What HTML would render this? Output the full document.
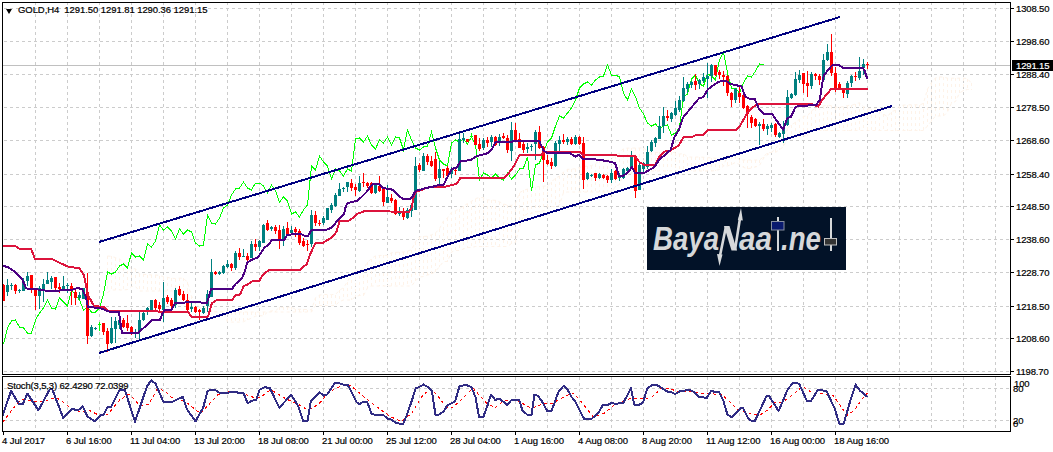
<!DOCTYPE html>
<html><head><meta charset="utf-8"><style>
html,body{margin:0;padding:0;background:#fff;width:1053px;height:452px;overflow:hidden;position:relative}
body{font-family:"Liberation Sans",sans-serif;font-size:10px;color:#000;-webkit-text-stroke:0.2px #000}
.cur{-webkit-text-stroke:0.2px #fff}
.pl{position:absolute;left:1016px;line-height:12px;font-size:9.5px;letter-spacing:-0.15px}
.tl{position:absolute;top:435px;line-height:12px;font-size:9.5px;letter-spacing:-0.08px;white-space:nowrap}
.title{position:absolute;left:18px;top:4px;line-height:12px;white-space:nowrap;font-size:9.5px;letter-spacing:-0.07px}
.tri{position:absolute;left:6px;top:9px;width:0;height:0;border-left:3.5px solid transparent;border-right:3.5px solid transparent;border-top:5px solid #000}
.cur{position:absolute;left:1012px;top:60px;width:41px;height:11px;background:#000;color:#fff;line-height:12px;padding-left:4px;box-sizing:border-box;font-size:9.5px;letter-spacing:-0.15px}
.st{position:absolute;left:7px;top:380px;line-height:12px;white-space:nowrap;font-size:9.5px;letter-spacing:-0.15px}
.sl{position:absolute;line-height:12px;font-size:9.5px;letter-spacing:-0.15px}
</style></head><body>
<svg width="1053" height="452" viewBox="0 0 1053 452" style="position:absolute;left:0;top:0;-webkit-text-stroke:0">
<g stroke="#cccccc" stroke-width="1" stroke-dasharray="3,3" shape-rendering="crispEdges"><line x1="35.5" y1="2" x2="35.5" y2="374" /><line x1="35.5" y1="377" x2="35.5" y2="431" /><line x1="67.5" y1="2" x2="67.5" y2="374" /><line x1="67.5" y1="377" x2="67.5" y2="431" /><line x1="99.5" y1="2" x2="99.5" y2="374" /><line x1="99.5" y1="377" x2="99.5" y2="431" /><line x1="131.5" y1="2" x2="131.5" y2="374" /><line x1="131.5" y1="377" x2="131.5" y2="431" /><line x1="163.5" y1="2" x2="163.5" y2="374" /><line x1="163.5" y1="377" x2="163.5" y2="431" /><line x1="195.5" y1="2" x2="195.5" y2="374" /><line x1="195.5" y1="377" x2="195.5" y2="431" /><line x1="227.5" y1="2" x2="227.5" y2="374" /><line x1="227.5" y1="377" x2="227.5" y2="431" /><line x1="259.5" y1="2" x2="259.5" y2="374" /><line x1="259.5" y1="377" x2="259.5" y2="431" /><line x1="291.5" y1="2" x2="291.5" y2="374" /><line x1="291.5" y1="377" x2="291.5" y2="431" /><line x1="323.5" y1="2" x2="323.5" y2="374" /><line x1="323.5" y1="377" x2="323.5" y2="431" /><line x1="355.5" y1="2" x2="355.5" y2="374" /><line x1="355.5" y1="377" x2="355.5" y2="431" /><line x1="387.5" y1="2" x2="387.5" y2="374" /><line x1="387.5" y1="377" x2="387.5" y2="431" /><line x1="419.5" y1="2" x2="419.5" y2="374" /><line x1="419.5" y1="377" x2="419.5" y2="431" /><line x1="451.5" y1="2" x2="451.5" y2="374" /><line x1="451.5" y1="377" x2="451.5" y2="431" /><line x1="483.5" y1="2" x2="483.5" y2="374" /><line x1="483.5" y1="377" x2="483.5" y2="431" /><line x1="515.5" y1="2" x2="515.5" y2="374" /><line x1="515.5" y1="377" x2="515.5" y2="431" /><line x1="547.5" y1="2" x2="547.5" y2="374" /><line x1="547.5" y1="377" x2="547.5" y2="431" /><line x1="579.5" y1="2" x2="579.5" y2="374" /><line x1="579.5" y1="377" x2="579.5" y2="431" /><line x1="611.5" y1="2" x2="611.5" y2="374" /><line x1="611.5" y1="377" x2="611.5" y2="431" /><line x1="643.5" y1="2" x2="643.5" y2="374" /><line x1="643.5" y1="377" x2="643.5" y2="431" /><line x1="675.5" y1="2" x2="675.5" y2="374" /><line x1="675.5" y1="377" x2="675.5" y2="431" /><line x1="707.5" y1="2" x2="707.5" y2="374" /><line x1="707.5" y1="377" x2="707.5" y2="431" /><line x1="739.5" y1="2" x2="739.5" y2="374" /><line x1="739.5" y1="377" x2="739.5" y2="431" /><line x1="771.5" y1="2" x2="771.5" y2="374" /><line x1="771.5" y1="377" x2="771.5" y2="431" /><line x1="803.5" y1="2" x2="803.5" y2="374" /><line x1="803.5" y1="377" x2="803.5" y2="431" /><line x1="835.5" y1="2" x2="835.5" y2="374" /><line x1="835.5" y1="377" x2="835.5" y2="431" /><line x1="867.5" y1="2" x2="867.5" y2="374" /><line x1="867.5" y1="377" x2="867.5" y2="431" /><line x1="899.5" y1="2" x2="899.5" y2="374" /><line x1="899.5" y1="377" x2="899.5" y2="431" /><line x1="931.5" y1="2" x2="931.5" y2="374" /><line x1="931.5" y1="377" x2="931.5" y2="431" /><line x1="963.5" y1="2" x2="963.5" y2="374" /><line x1="963.5" y1="377" x2="963.5" y2="431" /><line x1="995.5" y1="2" x2="995.5" y2="374" /><line x1="995.5" y1="377" x2="995.5" y2="431" /><line x1="4" y1="8.5" x2="1010" y2="8.5" /><line x1="4" y1="41.5" x2="1010" y2="41.5" /><line x1="4" y1="74.5" x2="1010" y2="74.5" /><line x1="4" y1="107.5" x2="1010" y2="107.5" /><line x1="4" y1="140.5" x2="1010" y2="140.5" /><line x1="4" y1="174.5" x2="1010" y2="174.5" /><line x1="4" y1="206.5" x2="1010" y2="206.5" /><line x1="4" y1="239.5" x2="1010" y2="239.5" /><line x1="4" y1="272.5" x2="1010" y2="272.5" /><line x1="4" y1="306.5" x2="1010" y2="306.5" /><line x1="4" y1="338.5" x2="1010" y2="338.5" /><line x1="4" y1="371.5" x2="1010" y2="371.5" /><line x1="4" y1="388.5" x2="1010" y2="388.5" /><line x1="4" y1="420.5" x2="1010" y2="420.5" /></g>
<g stroke="#fef3e9" stroke-width="1" stroke-dasharray="3,3" shape-rendering="crispEdges"><line x1="107.5" y1="256.0" x2="107.5" y2="292.5"/><line x1="111.5" y1="256.4" x2="111.5" y2="290.0"/><line x1="115.5" y1="257.6" x2="115.5" y2="290.0"/><line x1="119.5" y1="259.0" x2="119.5" y2="290.0"/><line x1="123.5" y1="262.2" x2="123.5" y2="290.0"/><line x1="127.5" y1="264.9" x2="127.5" y2="289.5"/><line x1="131.5" y1="268.5" x2="131.5" y2="286.5"/><line x1="135.5" y1="268.8" x2="135.5" y2="286.5"/><line x1="139.5" y1="274.0" x2="139.5" y2="291.0"/><line x1="143.5" y1="274.3" x2="143.5" y2="291.0"/><line x1="147.5" y1="274.6" x2="147.5" y2="291.0"/><line x1="151.5" y1="274.9" x2="151.5" y2="291.0"/><line x1="155.5" y1="274.9" x2="155.5" y2="291.0"/><line x1="159.5" y1="275.6" x2="159.5" y2="291.0"/><line x1="163.5" y1="276.5" x2="163.5" y2="291.0"/><line x1="167.5" y1="277.4" x2="167.5" y2="291.0"/><line x1="171.5" y1="278.2" x2="171.5" y2="291.0"/><line x1="175.5" y1="278.6" x2="175.5" y2="291.0"/><line x1="179.5" y1="278.2" x2="179.5" y2="291.0"/><line x1="183.5" y1="278.2" x2="183.5" y2="291.0"/><line x1="187.5" y1="282.3" x2="187.5" y2="291.0"/><line x1="191.5" y1="296.0" x2="191.5" y2="308.0"/><line x1="195.5" y1="303.9" x2="195.5" y2="308.0"/><line x1="199.5" y1="306.8" x2="199.5" y2="308.0"/><line x1="203.5" y1="307.2" x2="203.5" y2="308.0"/><line x1="207.5" y1="308.0" x2="207.5" y2="308.0"/><line x1="211.5" y1="310.4" x2="211.5" y2="312.0"/><line x1="215.5" y1="311.5" x2="215.5" y2="312.0"/><line x1="219.5" y1="311.5" x2="219.5" y2="312.0"/><line x1="223.5" y1="311.6" x2="223.5" y2="312.0"/><line x1="227.5" y1="312.0" x2="227.5" y2="322.1"/><line x1="231.5" y1="312.0" x2="231.5" y2="322.1"/><line x1="235.5" y1="312.0" x2="235.5" y2="322.1"/><line x1="239.5" y1="312.0" x2="239.5" y2="322.1"/><line x1="243.5" y1="312.0" x2="243.5" y2="321.7"/><line x1="247.5" y1="312.0" x2="247.5" y2="319.9"/><line x1="251.5" y1="312.0" x2="251.5" y2="318.1"/><line x1="255.5" y1="312.0" x2="255.5" y2="316.2"/><line x1="259.5" y1="312.0" x2="259.5" y2="315.7"/><line x1="263.5" y1="312.0" x2="263.5" y2="315.8"/><line x1="267.5" y1="312.0" x2="267.5" y2="312.1"/><line x1="271.5" y1="310.8" x2="271.5" y2="312.0"/><line x1="275.5" y1="310.8" x2="275.5" y2="312.0"/><line x1="279.5" y1="307.3" x2="279.5" y2="312.0"/><line x1="283.5" y1="307.3" x2="283.5" y2="312.0"/><line x1="287.5" y1="307.2" x2="287.5" y2="312.0"/><line x1="291.5" y1="307.1" x2="291.5" y2="312.0"/><line x1="295.5" y1="309.4" x2="295.5" y2="312.0"/><line x1="299.5" y1="309.3" x2="299.5" y2="312.0"/><line x1="303.5" y1="309.4" x2="303.5" y2="312.0"/><line x1="307.5" y1="309.6" x2="307.5" y2="312.0"/><line x1="311.5" y1="309.8" x2="311.5" y2="312.0"/><line x1="315.5" y1="297.7" x2="315.5" y2="305.5"/><line x1="319.5" y1="295.1" x2="319.5" y2="305.5"/><line x1="323.5" y1="294.5" x2="323.5" y2="305.5"/><line x1="327.5" y1="294.5" x2="327.5" y2="305.5"/><line x1="331.5" y1="294.5" x2="331.5" y2="305.5"/><line x1="335.5" y1="294.5" x2="335.5" y2="305.5"/><line x1="339.5" y1="290.2" x2="339.5" y2="301.5"/><line x1="343.5" y1="287.7" x2="343.5" y2="300.0"/><line x1="347.5" y1="281.6" x2="347.5" y2="300.0"/><line x1="351.5" y1="273.9" x2="351.5" y2="300.0"/><line x1="355.5" y1="271.1" x2="355.5" y2="296.5"/><line x1="359.5" y1="270.0" x2="359.5" y2="295.5"/><line x1="363.5" y1="268.7" x2="363.5" y2="295.5"/><line x1="367.5" y1="262.2" x2="367.5" y2="288.0"/><line x1="371.5" y1="258.7" x2="371.5" y2="286.0"/><line x1="375.5" y1="255.7" x2="375.5" y2="286.0"/><line x1="379.5" y1="255.4" x2="379.5" y2="286.0"/><line x1="383.5" y1="255.4" x2="383.5" y2="286.0"/><line x1="387.5" y1="255.4" x2="387.5" y2="286.0"/><line x1="391.5" y1="252.7" x2="391.5" y2="286.0"/><line x1="395.5" y1="252.4" x2="395.5" y2="286.0"/><line x1="399.5" y1="252.2" x2="399.5" y2="286.0"/><line x1="403.5" y1="252.0" x2="403.5" y2="286.0"/><line x1="407.5" y1="251.1" x2="407.5" y2="286.0"/><line x1="411.5" y1="249.8" x2="411.5" y2="286.0"/><line x1="415.5" y1="241.6" x2="415.5" y2="281.0"/><line x1="419.5" y1="237.0" x2="419.5" y2="277.0"/><line x1="423.5" y1="236.4" x2="423.5" y2="276.5"/><line x1="427.5" y1="236.3" x2="427.5" y2="275.0"/><line x1="431.5" y1="234.9" x2="431.5" y2="274.0"/><line x1="435.5" y1="232.9" x2="435.5" y2="271.5"/><line x1="439.5" y1="228.7" x2="439.5" y2="266.5"/><line x1="443.5" y1="221.0" x2="443.5" y2="261.5"/><line x1="447.5" y1="217.8" x2="447.5" y2="261.5"/><line x1="451.5" y1="212.4" x2="451.5" y2="252.0"/><line x1="455.5" y1="210.8" x2="455.5" y2="250.5"/><line x1="459.5" y1="208.7" x2="459.5" y2="250.5"/><line x1="463.5" y1="206.1" x2="463.5" y2="249.0"/><line x1="467.5" y1="203.6" x2="467.5" y2="247.5"/><line x1="471.5" y1="201.3" x2="471.5" y2="247.5"/><line x1="475.5" y1="198.6" x2="475.5" y2="246.5"/><line x1="479.5" y1="197.5" x2="479.5" y2="246.5"/><line x1="483.5" y1="197.5" x2="483.5" y2="246.5"/><line x1="487.5" y1="199.9" x2="487.5" y2="246.5"/><line x1="491.5" y1="200.0" x2="491.5" y2="246.5"/><line x1="495.5" y1="200.4" x2="495.5" y2="246.5"/><line x1="499.5" y1="201.9" x2="499.5" y2="246.5"/><line x1="503.5" y1="203.9" x2="503.5" y2="246.5"/><line x1="507.5" y1="205.3" x2="507.5" y2="246.5"/><line x1="511.5" y1="205.4" x2="511.5" y2="243.5"/><line x1="515.5" y1="203.3" x2="515.5" y2="242.5"/><line x1="519.5" y1="192.8" x2="519.5" y2="227.0"/><line x1="523.5" y1="190.3" x2="523.5" y2="216.0"/><line x1="527.5" y1="189.1" x2="527.5" y2="214.0"/><line x1="531.5" y1="187.8" x2="531.5" y2="213.5"/><line x1="535.5" y1="187.1" x2="535.5" y2="212.0"/><line x1="539.5" y1="186.5" x2="539.5" y2="211.5"/><line x1="543.5" y1="186.1" x2="543.5" y2="211.0"/><line x1="547.5" y1="185.9" x2="547.5" y2="206.5"/><line x1="551.5" y1="182.1" x2="551.5" y2="206.5"/><line x1="555.5" y1="178.0" x2="555.5" y2="206.5"/><line x1="559.5" y1="176.2" x2="559.5" y2="205.0"/><line x1="563.5" y1="172.0" x2="563.5" y2="192.5"/><line x1="567.5" y1="169.4" x2="567.5" y2="192.0"/><line x1="571.5" y1="169.1" x2="571.5" y2="192.0"/><line x1="575.5" y1="168.7" x2="575.5" y2="192.0"/><line x1="579.5" y1="167.4" x2="579.5" y2="192.0"/><line x1="583.5" y1="166.6" x2="583.5" y2="192.0"/><line x1="587.5" y1="166.1" x2="587.5" y2="192.0"/><line x1="591.5" y1="165.6" x2="591.5" y2="192.0"/><line x1="595.5" y1="163.8" x2="595.5" y2="192.0"/><line x1="599.5" y1="160.3" x2="599.5" y2="192.0"/><line x1="603.5" y1="159.8" x2="603.5" y2="192.0"/><line x1="607.5" y1="159.8" x2="607.5" y2="192.0"/><line x1="611.5" y1="158.5" x2="611.5" y2="192.0"/><line x1="615.5" y1="156.0" x2="615.5" y2="186.5"/><line x1="619.5" y1="152.5" x2="619.5" y2="184.5"/><line x1="623.5" y1="148.5" x2="623.5" y2="174.0"/><line x1="627.5" y1="148.1" x2="627.5" y2="174.0"/><line x1="631.5" y1="148.1" x2="631.5" y2="173.5"/><line x1="635.5" y1="148.0" x2="635.5" y2="171.0"/><line x1="639.5" y1="148.0" x2="639.5" y2="171.0"/><line x1="643.5" y1="147.8" x2="643.5" y2="171.0"/><line x1="647.5" y1="151.3" x2="647.5" y2="171.0"/><line x1="651.5" y1="152.3" x2="651.5" y2="171.0"/><line x1="655.5" y1="152.4" x2="655.5" y2="171.0"/><line x1="659.5" y1="152.4" x2="659.5" y2="171.0"/><line x1="663.5" y1="152.4" x2="663.5" y2="171.0"/><line x1="667.5" y1="152.4" x2="667.5" y2="171.0"/><line x1="671.5" y1="152.4" x2="671.5" y2="171.0"/><line x1="675.5" y1="152.7" x2="675.5" y2="171.0"/><line x1="679.5" y1="154.1" x2="679.5" y2="171.0"/><line x1="683.5" y1="153.5" x2="683.5" y2="171.0"/><line x1="687.5" y1="157.0" x2="687.5" y2="171.0"/><line x1="691.5" y1="157.0" x2="691.5" y2="171.0"/><line x1="695.5" y1="157.0" x2="695.5" y2="171.0"/><line x1="699.5" y1="157.0" x2="699.5" y2="171.0"/><line x1="703.5" y1="157.3" x2="703.5" y2="171.0"/><line x1="707.5" y1="157.6" x2="707.5" y2="171.0"/><line x1="711.5" y1="157.8" x2="711.5" y2="171.0"/><line x1="715.5" y1="158.3" x2="715.5" y2="170.5"/><line x1="719.5" y1="158.8" x2="719.5" y2="169.5"/><line x1="723.5" y1="166.0" x2="723.5" y2="166.3"/><line x1="727.5" y1="155.5" x2="727.5" y2="165.9"/><line x1="731.5" y1="155.5" x2="731.5" y2="164.6"/><line x1="735.5" y1="155.5" x2="735.5" y2="162.3"/><line x1="739.5" y1="160.0" x2="739.5" y2="164.8"/><line x1="743.5" y1="160.0" x2="743.5" y2="167.4"/><line x1="747.5" y1="160.0" x2="747.5" y2="168.7"/><line x1="751.5" y1="160.0" x2="751.5" y2="168.1"/><line x1="755.5" y1="160.0" x2="755.5" y2="166.9"/><line x1="759.5" y1="160.0" x2="759.5" y2="165.4"/><line x1="763.5" y1="157.0" x2="763.5" y2="158.5"/><line x1="767.5" y1="152.5" x2="767.5" y2="154.8"/><line x1="771.5" y1="152.2" x2="771.5" y2="152.5"/><line x1="775.5" y1="149.3" x2="775.5" y2="152.5"/><line x1="779.5" y1="142.0" x2="779.5" y2="149.5"/><line x1="783.5" y1="137.1" x2="783.5" y2="147.0"/><line x1="787.5" y1="128.2" x2="787.5" y2="137.5"/><line x1="791.5" y1="124.8" x2="791.5" y2="137.5"/><line x1="795.5" y1="122.3" x2="795.5" y2="137.5"/><line x1="799.5" y1="119.3" x2="799.5" y2="136.0"/><line x1="803.5" y1="116.4" x2="803.5" y2="136.0"/><line x1="807.5" y1="115.9" x2="807.5" y2="135.5"/><line x1="811.5" y1="110.7" x2="811.5" y2="130.5"/><line x1="815.5" y1="108.4" x2="815.5" y2="130.5"/><line x1="819.5" y1="107.0" x2="819.5" y2="130.5"/><line x1="823.5" y1="105.9" x2="823.5" y2="130.5"/><line x1="827.5" y1="105.4" x2="827.5" y2="130.5"/><line x1="831.5" y1="105.6" x2="831.5" y2="130.5"/><line x1="835.5" y1="107.0" x2="835.5" y2="130.5"/><line x1="839.5" y1="107.4" x2="839.5" y2="130.5"/><line x1="843.5" y1="106.5" x2="843.5" y2="130.5"/><line x1="847.5" y1="105.5" x2="847.5" y2="130.5"/><line x1="851.5" y1="105.4" x2="851.5" y2="130.5"/><line x1="855.5" y1="103.9" x2="855.5" y2="130.5"/><line x1="859.5" y1="102.8" x2="859.5" y2="130.5"/><line x1="863.5" y1="106.5" x2="863.5" y2="130.5"/><line x1="867.5" y1="108.8" x2="867.5" y2="130.5"/><line x1="871.5" y1="108.9" x2="871.5" y2="130.5"/><line x1="875.5" y1="108.9" x2="875.5" y2="130.5"/><line x1="879.5" y1="111.2" x2="879.5" y2="130.5"/><line x1="883.5" y1="114.0" x2="883.5" y2="130.5"/><line x1="887.5" y1="116.8" x2="887.5" y2="130.5"/><line x1="891.5" y1="111.5" x2="891.5" y2="130.5"/><line x1="895.5" y1="110.4" x2="895.5" y2="130.5"/><line x1="899.5" y1="106.1" x2="899.5" y2="130.5"/><line x1="903.5" y1="105.1" x2="903.5" y2="130.5"/><line x1="907.5" y1="104.9" x2="907.5" y2="130.5"/><line x1="911.5" y1="104.7" x2="911.5" y2="130.5"/><line x1="915.5" y1="104.6" x2="915.5" y2="130.5"/><line x1="919.5" y1="105.3" x2="919.5" y2="130.5"/><line x1="923.5" y1="103.2" x2="923.5" y2="130.5"/><line x1="927.5" y1="89.1" x2="927.5" y2="126.0"/><line x1="931.5" y1="82.6" x2="931.5" y2="121.0"/><line x1="935.5" y1="77.9" x2="935.5" y2="116.0"/><line x1="939.5" y1="76.9" x2="939.5" y2="116.0"/><line x1="943.5" y1="77.0" x2="943.5" y2="116.0"/><line x1="947.5" y1="78.2" x2="947.5" y2="112.0"/><line x1="951.5" y1="78.2" x2="951.5" y2="103.0"/><line x1="955.5" y1="78.2" x2="955.5" y2="101.5"/><line x1="959.5" y1="78.2" x2="959.5" y2="93.0"/><line x1="963.5" y1="78.2" x2="963.5" y2="90.5"/><line x1="967.5" y1="78.6" x2="967.5" y2="89.5"/><line x1="971.5" y1="83.4" x2="971.5" y2="89.5"/></g>
<polyline fill="none" stroke="#fef3e9" stroke-width="1" stroke-dasharray="3,3" points="107.5,256.0 111.5,256.4 115.5,257.6 119.5,259.0 123.5,262.2 127.5,264.9 131.5,268.5 135.5,268.8 139.5,274.0 143.5,274.3 147.5,274.6 151.5,274.9 155.5,274.9 159.5,275.6 163.5,276.5 167.5,277.4 171.5,278.2 175.5,278.6 179.5,278.2 183.5,278.2 187.5,282.3 191.5,296.0 195.5,303.9 199.5,306.8 203.5,307.2 207.5,308.0 211.5,310.4 215.5,311.5 219.5,311.5 223.5,311.6 227.5,322.1 231.5,322.1 235.5,322.1 239.5,322.1 243.5,321.7 247.5,319.9 251.5,318.1 255.5,316.2 259.5,315.7 263.5,315.8 267.5,312.1 271.5,310.8 275.5,310.8 279.5,307.3 283.5,307.3 287.5,307.2 291.5,307.1 295.5,309.4 299.5,309.3 303.5,309.4 307.5,309.6 311.5,309.8 315.5,297.7 319.5,295.1 323.5,294.5 327.5,294.5 331.5,294.5 335.5,294.5 339.5,290.2 343.5,287.7 347.5,281.6 351.5,273.9 355.5,271.1 359.5,270.0 363.5,268.7 367.5,262.2 371.5,258.7 375.5,255.7 379.5,255.4 383.5,255.4 387.5,255.4 391.5,252.7 395.5,252.4 399.5,252.2 403.5,252.0 407.5,251.1 411.5,249.8 415.5,241.6 419.5,237.0 423.5,236.4 427.5,236.3 431.5,234.9 435.5,232.9 439.5,228.7 443.5,221.0 447.5,217.8 451.5,212.4 455.5,210.8 459.5,208.7 463.5,206.1 467.5,203.6 471.5,201.3 475.5,198.6 479.5,197.5 483.5,197.5 487.5,199.9 491.5,200.0 495.5,200.4 499.5,201.9 503.5,203.9 507.5,205.3 511.5,205.4 515.5,203.3 519.5,192.8 523.5,190.3 527.5,189.1 531.5,187.8 535.5,187.1 539.5,186.5 543.5,186.1 547.5,185.9 551.5,182.1 555.5,178.0 559.5,176.2 563.5,172.0 567.5,169.4 571.5,169.1 575.5,168.7 579.5,167.4 583.5,166.6 587.5,166.1 591.5,165.6 595.5,163.8 599.5,160.3 603.5,159.8 607.5,159.8 611.5,158.5 615.5,156.0 619.5,152.5 623.5,148.5 627.5,148.1 631.5,148.1 635.5,148.0 639.5,148.0 643.5,147.8 647.5,151.3 651.5,152.3 655.5,152.4 659.5,152.4 663.5,152.4 667.5,152.4 671.5,152.4 675.5,152.7 679.5,154.1 683.5,153.5 687.5,157.0 691.5,157.0 695.5,157.0 699.5,157.0 703.5,157.3 707.5,157.6 711.5,157.8 715.5,158.3 719.5,158.8 723.5,166.3 727.5,165.9 731.5,164.6 735.5,162.3 739.5,164.8 743.5,167.4 747.5,168.7 751.5,168.1 755.5,166.9 759.5,165.4 763.5,158.5 767.5,154.8 771.5,152.2 775.5,149.3 779.5,142.0 783.5,137.1 787.5,128.2 791.5,124.8 795.5,122.3 799.5,119.3 803.5,116.4 807.5,115.9 811.5,110.7 815.5,108.4 819.5,107.0 823.5,105.9 827.5,105.4 831.5,105.6 835.5,107.0 839.5,107.4 843.5,106.5 847.5,105.5 851.5,105.4 855.5,103.9 859.5,102.8 863.5,106.5 867.5,108.8 871.5,108.9 875.5,108.9 879.5,111.2 883.5,114.0 887.5,116.8 891.5,111.5 895.5,110.4 899.5,106.1 903.5,105.1 907.5,104.9 911.5,104.7 915.5,104.6 919.5,105.3 923.5,103.2 927.5,89.1 931.5,82.6 935.5,77.9 939.5,76.9 943.5,77.0 947.5,78.2 951.5,78.2 955.5,78.2 959.5,78.2 963.5,78.2 967.5,78.6 971.5,83.4"/>
<polyline fill="none" stroke="#fef3e9" stroke-width="1" stroke-dasharray="3,3" points="107.5,292.5 111.5,290.0 115.5,290.0 119.5,290.0 123.5,290.0 127.5,289.5 131.5,286.5 135.5,286.5 139.5,291.0 143.5,291.0 147.5,291.0 151.5,291.0 155.5,291.0 159.5,291.0 163.5,291.0 167.5,291.0 171.5,291.0 175.5,291.0 179.5,291.0 183.5,291.0 187.5,291.0 191.5,308.0 195.5,308.0 199.5,308.0 203.5,308.0 207.5,308.0 211.5,312.0 215.5,312.0 219.5,312.0 223.5,312.0 227.5,312.0 231.5,312.0 235.5,312.0 239.5,312.0 243.5,312.0 247.5,312.0 251.5,312.0 255.5,312.0 259.5,312.0 263.5,312.0 267.5,312.0 271.5,312.0 275.5,312.0 279.5,312.0 283.5,312.0 287.5,312.0 291.5,312.0 295.5,312.0 299.5,312.0 303.5,312.0 307.5,312.0 311.5,312.0 315.5,305.5 319.5,305.5 323.5,305.5 327.5,305.5 331.5,305.5 335.5,305.5 339.5,301.5 343.5,300.0 347.5,300.0 351.5,300.0 355.5,296.5 359.5,295.5 363.5,295.5 367.5,288.0 371.5,286.0 375.5,286.0 379.5,286.0 383.5,286.0 387.5,286.0 391.5,286.0 395.5,286.0 399.5,286.0 403.5,286.0 407.5,286.0 411.5,286.0 415.5,281.0 419.5,277.0 423.5,276.5 427.5,275.0 431.5,274.0 435.5,271.5 439.5,266.5 443.5,261.5 447.5,261.5 451.5,252.0 455.5,250.5 459.5,250.5 463.5,249.0 467.5,247.5 471.5,247.5 475.5,246.5 479.5,246.5 483.5,246.5 487.5,246.5 491.5,246.5 495.5,246.5 499.5,246.5 503.5,246.5 507.5,246.5 511.5,243.5 515.5,242.5 519.5,227.0 523.5,216.0 527.5,214.0 531.5,213.5 535.5,212.0 539.5,211.5 543.5,211.0 547.5,206.5 551.5,206.5 555.5,206.5 559.5,205.0 563.5,192.5 567.5,192.0 571.5,192.0 575.5,192.0 579.5,192.0 583.5,192.0 587.5,192.0 591.5,192.0 595.5,192.0 599.5,192.0 603.5,192.0 607.5,192.0 611.5,192.0 615.5,186.5 619.5,184.5 623.5,174.0 627.5,174.0 631.5,173.5 635.5,171.0 639.5,171.0 643.5,171.0 647.5,171.0 651.5,171.0 655.5,171.0 659.5,171.0 663.5,171.0 667.5,171.0 671.5,171.0 675.5,171.0 679.5,171.0 683.5,171.0 687.5,171.0 691.5,171.0 695.5,171.0 699.5,171.0 703.5,171.0 707.5,171.0 711.5,171.0 715.5,170.5 719.5,169.5 723.5,166.0 727.5,155.5 731.5,155.5 735.5,155.5 739.5,160.0 743.5,160.0 747.5,160.0 751.5,160.0 755.5,160.0 759.5,160.0 763.5,157.0 767.5,152.5 771.5,152.5 775.5,152.5 779.5,149.5 783.5,147.0 787.5,137.5 791.5,137.5 795.5,137.5 799.5,136.0 803.5,136.0 807.5,135.5 811.5,130.5 815.5,130.5 819.5,130.5 823.5,130.5 827.5,130.5 831.5,130.5 835.5,130.5 839.5,130.5 843.5,130.5 847.5,130.5 851.5,130.5 855.5,130.5 859.5,130.5 863.5,130.5 867.5,130.5 871.5,130.5 875.5,130.5 879.5,130.5 883.5,130.5 887.5,130.5 891.5,130.5 895.5,130.5 899.5,130.5 903.5,130.5 907.5,130.5 911.5,130.5 915.5,130.5 919.5,130.5 923.5,130.5 927.5,126.0 931.5,121.0 935.5,116.0 939.5,116.0 943.5,116.0 947.5,112.0 951.5,103.0 955.5,101.5 959.5,93.0 963.5,90.5 967.5,89.5 971.5,89.5"/>
<line x1="3" y1="65.5" x2="1010" y2="65.5" stroke="#c0c0c0" stroke-width="1" shape-rendering="crispEdges"/>
<polyline points="3.5,344.0 7.5,328.0 11.5,321.0 15.5,320.0 19.5,327.0 23.5,328.0 27.5,333.0 31.5,333.0 35.5,320.0 39.5,313.0 43.5,308.0 47.5,300.0 51.5,308.0 55.5,309.0 59.5,298.0 63.5,302.0 67.5,306.0 71.5,290.0 75.5,295.0 79.5,300.0 83.5,310.0 87.5,307.0 91.5,312.0 95.5,312.0 99.5,308.0 103.5,294.0 107.5,272.0 111.5,274.0 115.5,272.0 119.5,266.0 123.5,264.0 127.5,268.0 131.5,253.0 135.5,257.0 139.5,256.0 143.5,260.0 147.5,244.0 151.5,247.0 155.5,241.0 159.5,225.0 163.5,230.0 167.5,227.0 171.5,231.0 175.5,239.0 179.5,229.0 183.5,234.0 187.5,230.0 191.5,232.0 195.5,243.0 199.5,246.0 203.5,245.0 207.5,215.0 211.5,223.0 215.5,224.0 219.5,218.0 223.5,208.0 227.5,205.0 231.5,195.0 235.5,189.0 239.5,188.0 243.5,182.0 247.5,188.0 251.5,190.0 255.5,183.0 259.5,183.0 263.5,186.0 267.5,193.0 271.5,185.0 275.5,191.0 279.5,202.0 283.5,197.0 287.5,201.0 291.5,214.0 295.5,212.0 299.5,217.0 303.5,210.0 307.5,205.0 311.5,166.0 315.5,170.0 319.5,156.0 323.5,162.0 327.5,166.0 331.5,179.0 335.5,169.0 339.5,171.0 343.5,176.0 347.5,169.0 351.5,171.0 355.5,139.0 359.5,138.0 363.5,142.0 367.5,136.0 371.5,145.0 375.5,149.0 379.5,140.0 383.5,143.0 387.5,137.0 391.5,145.0 395.5,137.0 399.5,138.0 403.5,150.0 407.5,130.0 411.5,140.0 415.5,148.0 419.5,150.0 423.5,147.0 427.5,146.0 431.5,132.0 435.5,148.0 439.5,160.0 443.5,164.0 447.5,166.0 451.5,143.0 455.5,140.0 459.5,142.0 463.5,139.0 467.5,144.0 471.5,137.0 475.5,144.0 479.5,180.0 483.5,173.0 487.5,175.0 491.5,178.0 495.5,174.0 499.5,178.0 503.5,180.0 507.5,173.0 511.5,179.0 515.5,175.0 519.5,169.0 523.5,168.0 527.5,157.0 531.5,191.0 535.5,165.0 539.5,163.0 543.5,152.0 547.5,142.0 551.5,138.0 555.5,126.0 559.5,116.0 563.5,118.0 567.5,113.0 571.5,108.0 575.5,100.0 579.5,88.0 583.5,84.0 587.5,82.0 591.5,85.0 595.5,80.0 599.5,77.0 603.5,76.0 607.5,65.0 611.5,75.0 615.5,75.0 619.5,77.0 623.5,93.0 627.5,100.0 631.5,89.0 635.5,97.0 639.5,108.0 643.5,114.0 647.5,123.0 651.5,126.0 655.5,124.0 659.5,129.0 663.5,126.0 667.5,125.0 671.5,135.0 675.5,133.0 679.5,127.0 683.5,97.0 687.5,94.0 691.5,79.0 695.5,75.0 699.5,84.0 703.5,86.0 707.5,74.0 711.5,76.0 715.5,80.0 719.5,60.0 723.5,52.0 727.5,73.0 731.5,88.0 735.5,88.0 739.5,93.0 743.5,83.0 747.5,76.0 751.5,77.0 755.5,71.0 759.5,64.0 763.5,65.0" fill="none" stroke="#00ff00" stroke-width="1" shape-rendering="crispEdges"/>
<g shape-rendering="crispEdges"><rect x="3" y="284" width="1" height="17" fill="#ff0000"/><rect x="2" y="285" width="3" height="16" fill="#ff0000"/><rect x="7" y="279" width="1" height="17" fill="#008080"/><rect x="6" y="285" width="3" height="7" fill="#008080"/><rect x="11" y="283" width="1" height="7" fill="#008080"/><rect x="10" y="285" width="3" height="1" fill="#008080"/><rect x="15" y="284" width="1" height="10" fill="#ff0000"/><rect x="14" y="285" width="3" height="6" fill="#ff0000"/><rect x="19" y="289" width="1" height="4" fill="#008080"/><rect x="18" y="290" width="3" height="1" fill="#008080"/><rect x="23" y="278" width="1" height="13" fill="#008080"/><rect x="22" y="281" width="3" height="10" fill="#008080"/><rect x="27" y="272" width="1" height="14" fill="#008080"/><rect x="26" y="276" width="3" height="5" fill="#008080"/><rect x="31" y="275" width="1" height="18" fill="#ff0000"/><rect x="30" y="275" width="3" height="14" fill="#ff0000"/><rect x="35" y="289" width="1" height="21" fill="#ff0000"/><rect x="34" y="289" width="3" height="7" fill="#ff0000"/><rect x="39" y="286" width="1" height="23" fill="#008080"/><rect x="38" y="288" width="3" height="8" fill="#008080"/><rect x="43" y="279" width="1" height="23" fill="#008080"/><rect x="42" y="284" width="3" height="6" fill="#008080"/><rect x="47" y="272" width="1" height="12" fill="#008080"/><rect x="46" y="280" width="3" height="4" fill="#008080"/><rect x="51" y="276" width="1" height="13" fill="#008080"/><rect x="50" y="278" width="3" height="4" fill="#008080"/><rect x="55" y="277" width="1" height="14" fill="#ff0000"/><rect x="54" y="277" width="3" height="11" fill="#ff0000"/><rect x="59" y="283" width="1" height="10" fill="#ff0000"/><rect x="58" y="287" width="3" height="2" fill="#ff0000"/><rect x="63" y="276" width="1" height="15" fill="#008080"/><rect x="62" y="286" width="3" height="3" fill="#008080"/><rect x="67" y="283" width="1" height="10" fill="#008080"/><rect x="66" y="285" width="3" height="1" fill="#008080"/><rect x="71" y="283" width="1" height="22" fill="#ff0000"/><rect x="70" y="286" width="3" height="3" fill="#ff0000"/><rect x="75" y="290" width="1" height="15" fill="#ff0000"/><rect x="74" y="292" width="3" height="6" fill="#ff0000"/><rect x="79" y="292" width="1" height="8" fill="#008080"/><rect x="78" y="295" width="3" height="3" fill="#008080"/><rect x="83" y="288" width="1" height="11" fill="#008080"/><rect x="82" y="288" width="3" height="11" fill="#008080"/><rect x="87" y="273" width="1" height="71" fill="#ff0000"/><rect x="86" y="292" width="3" height="44" fill="#ff0000"/><rect x="91" y="325" width="1" height="12" fill="#008080"/><rect x="90" y="327" width="3" height="9" fill="#008080"/><rect x="95" y="327" width="1" height="3" fill="#008080"/><rect x="94" y="328" width="3" height="1" fill="#008080"/><rect x="99" y="322" width="1" height="9" fill="#00ff00"/><rect x="98" y="324" width="3" height="1" fill="#00ff00"/><rect x="103" y="323" width="1" height="12" fill="#ff0000"/><rect x="102" y="323" width="3" height="9" fill="#ff0000"/><rect x="107" y="328" width="1" height="24" fill="#ff0000"/><rect x="106" y="331" width="3" height="13" fill="#ff0000"/><rect x="111" y="317" width="1" height="27" fill="#008080"/><rect x="110" y="328" width="3" height="15" fill="#008080"/><rect x="115" y="317" width="1" height="26" fill="#008080"/><rect x="114" y="321" width="3" height="8" fill="#008080"/><rect x="119" y="317" width="1" height="12" fill="#008080"/><rect x="118" y="320" width="3" height="5" fill="#008080"/><rect x="123" y="318" width="1" height="10" fill="#ff0000"/><rect x="122" y="320" width="3" height="7" fill="#ff0000"/><rect x="127" y="315" width="1" height="16" fill="#ff0000"/><rect x="126" y="323" width="3" height="5" fill="#ff0000"/><rect x="131" y="326" width="1" height="9" fill="#ff0000"/><rect x="130" y="327" width="3" height="6" fill="#ff0000"/><rect x="135" y="329" width="1" height="9" fill="#008080"/><rect x="134" y="333" width="3" height="1" fill="#008080"/><rect x="139" y="312" width="1" height="28" fill="#008080"/><rect x="138" y="320" width="3" height="12" fill="#008080"/><rect x="143" y="312" width="1" height="9" fill="#008080"/><rect x="142" y="313" width="3" height="7" fill="#008080"/><rect x="147" y="307" width="1" height="8" fill="#008080"/><rect x="146" y="308" width="3" height="4" fill="#008080"/><rect x="151" y="300" width="1" height="10" fill="#008080"/><rect x="150" y="300" width="3" height="10" fill="#008080"/><rect x="155" y="299" width="1" height="11" fill="#ff0000"/><rect x="154" y="300" width="3" height="8" fill="#ff0000"/><rect x="159" y="302" width="1" height="11" fill="#ff0000"/><rect x="158" y="305" width="3" height="4" fill="#ff0000"/><rect x="163" y="282" width="1" height="40" fill="#008080"/><rect x="162" y="298" width="3" height="12" fill="#008080"/><rect x="167" y="295" width="1" height="9" fill="#ff0000"/><rect x="166" y="297" width="3" height="5" fill="#ff0000"/><rect x="171" y="298" width="1" height="10" fill="#ff0000"/><rect x="170" y="300" width="3" height="6" fill="#ff0000"/><rect x="175" y="288" width="1" height="20" fill="#008080"/><rect x="174" y="290" width="3" height="15" fill="#008080"/><rect x="179" y="286" width="1" height="10" fill="#ff0000"/><rect x="178" y="289" width="3" height="6" fill="#ff0000"/><rect x="183" y="291" width="1" height="10" fill="#ff0000"/><rect x="182" y="294" width="3" height="6" fill="#ff0000"/><rect x="187" y="294" width="1" height="17" fill="#ff0000"/><rect x="186" y="300" width="3" height="10" fill="#ff0000"/><rect x="191" y="303" width="1" height="9" fill="#008080"/><rect x="190" y="307" width="3" height="2" fill="#008080"/><rect x="195" y="306" width="1" height="7" fill="#ff0000"/><rect x="194" y="307" width="3" height="5" fill="#ff0000"/><rect x="199" y="309" width="1" height="11" fill="#ff0000"/><rect x="198" y="310" width="3" height="2" fill="#ff0000"/><rect x="203" y="306" width="1" height="8" fill="#008080"/><rect x="202" y="308" width="3" height="5" fill="#008080"/><rect x="207" y="290" width="1" height="22" fill="#008080"/><rect x="206" y="294" width="3" height="12" fill="#008080"/><rect x="211" y="259" width="1" height="38" fill="#008080"/><rect x="210" y="272" width="3" height="25" fill="#008080"/><rect x="215" y="271" width="1" height="4" fill="#ff0000"/><rect x="214" y="272" width="3" height="2" fill="#ff0000"/><rect x="219" y="271" width="1" height="4" fill="#008080"/><rect x="218" y="272" width="3" height="2" fill="#008080"/><rect x="223" y="265" width="1" height="9" fill="#008080"/><rect x="222" y="266" width="3" height="7" fill="#008080"/><rect x="227" y="260" width="1" height="8" fill="#008080"/><rect x="226" y="264" width="3" height="3" fill="#008080"/><rect x="231" y="263" width="1" height="8" fill="#ff0000"/><rect x="230" y="264" width="3" height="4" fill="#ff0000"/><rect x="235" y="251" width="1" height="19" fill="#008080"/><rect x="234" y="253" width="3" height="15" fill="#008080"/><rect x="239" y="248" width="1" height="12" fill="#ff0000"/><rect x="238" y="253" width="3" height="4" fill="#ff0000"/><rect x="243" y="249" width="1" height="8" fill="#008080"/><rect x="242" y="256" width="3" height="1" fill="#008080"/><rect x="247" y="253" width="1" height="8" fill="#ff0000"/><rect x="246" y="256" width="3" height="4" fill="#ff0000"/><rect x="251" y="241" width="1" height="17" fill="#008080"/><rect x="250" y="244" width="3" height="14" fill="#008080"/><rect x="255" y="239" width="1" height="12" fill="#ff0000"/><rect x="254" y="244" width="3" height="3" fill="#ff0000"/><rect x="259" y="240" width="1" height="11" fill="#008080"/><rect x="258" y="241" width="3" height="6" fill="#008080"/><rect x="263" y="224" width="1" height="19" fill="#008080"/><rect x="262" y="225" width="3" height="18" fill="#008080"/><rect x="267" y="220" width="1" height="11" fill="#ff0000"/><rect x="266" y="223" width="3" height="7" fill="#ff0000"/><rect x="271" y="226" width="1" height="5" fill="#008080"/><rect x="270" y="227" width="3" height="2" fill="#008080"/><rect x="275" y="225" width="1" height="9" fill="#ff0000"/><rect x="274" y="227" width="3" height="4" fill="#ff0000"/><rect x="279" y="225" width="1" height="24" fill="#ff0000"/><rect x="278" y="230" width="3" height="9" fill="#ff0000"/><rect x="283" y="226" width="1" height="20" fill="#008080"/><rect x="282" y="229" width="3" height="11" fill="#008080"/><rect x="287" y="222" width="1" height="13" fill="#ff0000"/><rect x="286" y="228" width="3" height="6" fill="#ff0000"/><rect x="291" y="226" width="1" height="9" fill="#008080"/><rect x="290" y="230" width="3" height="3" fill="#008080"/><rect x="295" y="227" width="1" height="10" fill="#ff0000"/><rect x="294" y="229" width="3" height="3" fill="#ff0000"/><rect x="299" y="229" width="1" height="16" fill="#ff0000"/><rect x="298" y="231" width="3" height="12" fill="#ff0000"/><rect x="303" y="238" width="1" height="9" fill="#ff0000"/><rect x="302" y="241" width="3" height="5" fill="#ff0000"/><rect x="307" y="240" width="1" height="11" fill="#ff0000"/><rect x="306" y="244" width="3" height="1" fill="#ff0000"/><rect x="311" y="210" width="1" height="37" fill="#008080"/><rect x="310" y="215" width="3" height="29" fill="#008080"/><rect x="315" y="211" width="1" height="15" fill="#ff0000"/><rect x="314" y="215" width="3" height="8" fill="#ff0000"/><rect x="319" y="220" width="1" height="6" fill="#ff0000"/><rect x="318" y="223" width="3" height="1" fill="#ff0000"/><rect x="323" y="216" width="1" height="9" fill="#008080"/><rect x="322" y="218" width="3" height="5" fill="#008080"/><rect x="327" y="208" width="1" height="12" fill="#008080"/><rect x="326" y="208" width="3" height="12" fill="#008080"/><rect x="331" y="203" width="1" height="10" fill="#008080"/><rect x="330" y="205" width="3" height="5" fill="#008080"/><rect x="335" y="193" width="1" height="14" fill="#008080"/><rect x="334" y="195" width="3" height="11" fill="#008080"/><rect x="339" y="183" width="1" height="13" fill="#008080"/><rect x="338" y="189" width="3" height="7" fill="#008080"/><rect x="343" y="187" width="1" height="5" fill="#008080"/><rect x="342" y="188" width="3" height="1" fill="#008080"/><rect x="347" y="182" width="1" height="10" fill="#008080"/><rect x="346" y="182" width="3" height="5" fill="#008080"/><rect x="351" y="179" width="1" height="12" fill="#ff0000"/><rect x="350" y="183" width="3" height="5" fill="#ff0000"/><rect x="355" y="184" width="1" height="12" fill="#ff0000"/><rect x="354" y="187" width="3" height="3" fill="#ff0000"/><rect x="359" y="176" width="1" height="16" fill="#008080"/><rect x="358" y="183" width="3" height="8" fill="#008080"/><rect x="363" y="173" width="1" height="14" fill="#ff0000"/><rect x="362" y="182" width="3" height="1" fill="#ff0000"/><rect x="367" y="182" width="1" height="6" fill="#ff0000"/><rect x="366" y="183" width="3" height="3" fill="#ff0000"/><rect x="371" y="182" width="1" height="12" fill="#ff0000"/><rect x="370" y="183" width="3" height="10" fill="#ff0000"/><rect x="375" y="184" width="1" height="10" fill="#008080"/><rect x="374" y="185" width="3" height="8" fill="#008080"/><rect x="379" y="176" width="1" height="16" fill="#ff0000"/><rect x="378" y="186" width="3" height="5" fill="#ff0000"/><rect x="383" y="187" width="1" height="19" fill="#ff0000"/><rect x="382" y="189" width="3" height="13" fill="#ff0000"/><rect x="387" y="185" width="1" height="18" fill="#008080"/><rect x="386" y="197" width="3" height="6" fill="#008080"/><rect x="391" y="194" width="1" height="9" fill="#ff0000"/><rect x="390" y="198" width="3" height="3" fill="#ff0000"/><rect x="395" y="199" width="1" height="16" fill="#ff0000"/><rect x="394" y="200" width="3" height="14" fill="#ff0000"/><rect x="399" y="207" width="1" height="9" fill="#008080"/><rect x="398" y="212" width="3" height="2" fill="#008080"/><rect x="403" y="208" width="1" height="12" fill="#ff0000"/><rect x="402" y="211" width="3" height="6" fill="#ff0000"/><rect x="407" y="208" width="1" height="11" fill="#008080"/><rect x="406" y="210" width="3" height="8" fill="#008080"/><rect x="411" y="203" width="1" height="14" fill="#008080"/><rect x="410" y="205" width="3" height="6" fill="#008080"/><rect x="415" y="157" width="1" height="53" fill="#008080"/><rect x="414" y="166" width="3" height="44" fill="#008080"/><rect x="419" y="163" width="1" height="9" fill="#ff0000"/><rect x="418" y="165" width="3" height="5" fill="#ff0000"/><rect x="423" y="153" width="1" height="18" fill="#008080"/><rect x="422" y="156" width="3" height="15" fill="#008080"/><rect x="427" y="154" width="1" height="11" fill="#ff0000"/><rect x="426" y="156" width="3" height="6" fill="#ff0000"/><rect x="431" y="156" width="1" height="11" fill="#ff0000"/><rect x="430" y="161" width="3" height="5" fill="#ff0000"/><rect x="435" y="152" width="1" height="29" fill="#ff0000"/><rect x="434" y="159" width="3" height="20" fill="#ff0000"/><rect x="439" y="161" width="1" height="23" fill="#008080"/><rect x="438" y="169" width="3" height="9" fill="#008080"/><rect x="443" y="169" width="1" height="9" fill="#ff0000"/><rect x="442" y="169" width="3" height="2" fill="#ff0000"/><rect x="447" y="166" width="1" height="11" fill="#ff0000"/><rect x="446" y="168" width="3" height="8" fill="#ff0000"/><rect x="451" y="167" width="1" height="11" fill="#008080"/><rect x="450" y="169" width="3" height="5" fill="#008080"/><rect x="455" y="169" width="1" height="6" fill="#ff0000"/><rect x="454" y="170" width="3" height="1" fill="#ff0000"/><rect x="459" y="134" width="1" height="37" fill="#008080"/><rect x="458" y="139" width="3" height="32" fill="#008080"/><rect x="463" y="133" width="1" height="10" fill="#008080"/><rect x="462" y="138" width="3" height="2" fill="#008080"/><rect x="467" y="139" width="1" height="3" fill="#ff0000"/><rect x="466" y="139" width="3" height="3" fill="#ff0000"/><rect x="471" y="133" width="1" height="5" fill="#00ff00"/><rect x="470" y="136" width="3" height="1" fill="#00ff00"/><rect x="475" y="135" width="1" height="10" fill="#ff0000"/><rect x="474" y="135" width="3" height="10" fill="#ff0000"/><rect x="479" y="138" width="1" height="13" fill="#ff0000"/><rect x="478" y="144" width="3" height="5" fill="#ff0000"/><rect x="483" y="138" width="1" height="12" fill="#008080"/><rect x="482" y="140" width="3" height="8" fill="#008080"/><rect x="487" y="137" width="1" height="10" fill="#ff0000"/><rect x="486" y="140" width="3" height="3" fill="#ff0000"/><rect x="491" y="135" width="1" height="12" fill="#008080"/><rect x="490" y="137" width="3" height="5" fill="#008080"/><rect x="495" y="136" width="1" height="10" fill="#ff0000"/><rect x="494" y="137" width="3" height="8" fill="#ff0000"/><rect x="499" y="134" width="1" height="12" fill="#008080"/><rect x="498" y="137" width="3" height="5" fill="#008080"/><rect x="503" y="133" width="1" height="6" fill="#ff0000"/><rect x="502" y="136" width="3" height="2" fill="#ff0000"/><rect x="507" y="135" width="1" height="18" fill="#ff0000"/><rect x="506" y="138" width="3" height="12" fill="#ff0000"/><rect x="511" y="122" width="1" height="39" fill="#008080"/><rect x="510" y="130" width="3" height="21" fill="#008080"/><rect x="515" y="123" width="1" height="18" fill="#ff0000"/><rect x="514" y="130" width="3" height="10" fill="#ff0000"/><rect x="519" y="133" width="1" height="15" fill="#ff0000"/><rect x="518" y="139" width="3" height="9" fill="#ff0000"/><rect x="523" y="142" width="1" height="11" fill="#ff0000"/><rect x="522" y="144" width="3" height="6" fill="#ff0000"/><rect x="527" y="143" width="1" height="10" fill="#008080"/><rect x="526" y="147" width="3" height="2" fill="#008080"/><rect x="531" y="144" width="1" height="7" fill="#008080"/><rect x="530" y="146" width="3" height="1" fill="#008080"/><rect x="535" y="130" width="1" height="30" fill="#008080"/><rect x="534" y="132" width="3" height="12" fill="#008080"/><rect x="539" y="126" width="1" height="23" fill="#ff0000"/><rect x="538" y="132" width="3" height="16" fill="#ff0000"/><rect x="543" y="146" width="1" height="36" fill="#ff0000"/><rect x="542" y="147" width="3" height="13" fill="#ff0000"/><rect x="547" y="155" width="1" height="10" fill="#ff0000"/><rect x="546" y="160" width="3" height="4" fill="#ff0000"/><rect x="551" y="158" width="1" height="11" fill="#ff0000"/><rect x="550" y="162" width="3" height="4" fill="#ff0000"/><rect x="555" y="141" width="1" height="26" fill="#008080"/><rect x="554" y="143" width="3" height="23" fill="#008080"/><rect x="559" y="136" width="1" height="15" fill="#008080"/><rect x="558" y="140" width="3" height="4" fill="#008080"/><rect x="563" y="134" width="1" height="10" fill="#ff0000"/><rect x="562" y="140" width="3" height="2" fill="#ff0000"/><rect x="567" y="137" width="1" height="8" fill="#008080"/><rect x="566" y="139" width="3" height="3" fill="#008080"/><rect x="571" y="137" width="1" height="8" fill="#ff0000"/><rect x="570" y="139" width="3" height="5" fill="#ff0000"/><rect x="575" y="135" width="1" height="10" fill="#008080"/><rect x="574" y="137" width="3" height="7" fill="#008080"/><rect x="579" y="136" width="1" height="9" fill="#ff0000"/><rect x="578" y="137" width="3" height="7" fill="#ff0000"/><rect x="583" y="137" width="1" height="52" fill="#ff0000"/><rect x="582" y="143" width="3" height="37" fill="#ff0000"/><rect x="587" y="172" width="1" height="8" fill="#008080"/><rect x="586" y="173" width="3" height="6" fill="#008080"/><rect x="591" y="174" width="1" height="3" fill="#008080"/><rect x="590" y="175" width="3" height="1" fill="#008080"/><rect x="595" y="173" width="1" height="8" fill="#ff0000"/><rect x="594" y="173" width="3" height="5" fill="#ff0000"/><rect x="599" y="173" width="1" height="6" fill="#008080"/><rect x="598" y="174" width="3" height="4" fill="#008080"/><rect x="603" y="174" width="1" height="5" fill="#ff0000"/><rect x="602" y="175" width="3" height="3" fill="#ff0000"/><rect x="607" y="175" width="1" height="8" fill="#ff0000"/><rect x="606" y="176" width="3" height="4" fill="#ff0000"/><rect x="611" y="169" width="1" height="14" fill="#008080"/><rect x="610" y="173" width="3" height="7" fill="#008080"/><rect x="615" y="170" width="1" height="10" fill="#ff0000"/><rect x="614" y="171" width="3" height="8" fill="#ff0000"/><rect x="619" y="173" width="1" height="8" fill="#008080"/><rect x="618" y="175" width="3" height="3" fill="#008080"/><rect x="623" y="168" width="1" height="11" fill="#008080"/><rect x="622" y="169" width="3" height="9" fill="#008080"/><rect x="627" y="167" width="1" height="5" fill="#008080"/><rect x="626" y="168" width="3" height="3" fill="#008080"/><rect x="631" y="151" width="1" height="18" fill="#008080"/><rect x="630" y="157" width="3" height="11" fill="#008080"/><rect x="635" y="155" width="1" height="43" fill="#ff0000"/><rect x="634" y="156" width="3" height="35" fill="#ff0000"/><rect x="639" y="163" width="1" height="27" fill="#008080"/><rect x="638" y="165" width="3" height="25" fill="#008080"/><rect x="643" y="162" width="1" height="10" fill="#008080"/><rect x="642" y="163" width="3" height="6" fill="#008080"/><rect x="647" y="146" width="1" height="23" fill="#008080"/><rect x="646" y="152" width="3" height="15" fill="#008080"/><rect x="651" y="140" width="1" height="12" fill="#008080"/><rect x="650" y="142" width="3" height="9" fill="#008080"/><rect x="655" y="137" width="1" height="10" fill="#008080"/><rect x="654" y="138" width="3" height="5" fill="#008080"/><rect x="659" y="116" width="1" height="23" fill="#008080"/><rect x="658" y="126" width="3" height="13" fill="#008080"/><rect x="663" y="107" width="1" height="26" fill="#008080"/><rect x="662" y="116" width="3" height="10" fill="#008080"/><rect x="667" y="110" width="1" height="11" fill="#ff0000"/><rect x="666" y="116" width="3" height="2" fill="#ff0000"/><rect x="671" y="112" width="1" height="10" fill="#008080"/><rect x="670" y="113" width="3" height="6" fill="#008080"/><rect x="675" y="101" width="1" height="15" fill="#008080"/><rect x="674" y="108" width="3" height="7" fill="#008080"/><rect x="679" y="96" width="1" height="16" fill="#008080"/><rect x="678" y="100" width="3" height="10" fill="#008080"/><rect x="683" y="77" width="1" height="25" fill="#008080"/><rect x="682" y="88" width="3" height="13" fill="#008080"/><rect x="687" y="82" width="1" height="11" fill="#008080"/><rect x="686" y="84" width="3" height="5" fill="#008080"/><rect x="691" y="81" width="1" height="7" fill="#008080"/><rect x="690" y="82" width="3" height="3" fill="#008080"/><rect x="695" y="74" width="1" height="16" fill="#ff0000"/><rect x="694" y="81" width="3" height="4" fill="#ff0000"/><rect x="699" y="79" width="1" height="10" fill="#008080"/><rect x="698" y="80" width="3" height="4" fill="#008080"/><rect x="703" y="73" width="1" height="10" fill="#008080"/><rect x="702" y="77" width="3" height="4" fill="#008080"/><rect x="707" y="63" width="1" height="35" fill="#008080"/><rect x="706" y="76" width="3" height="3" fill="#008080"/><rect x="711" y="64" width="1" height="18" fill="#008080"/><rect x="710" y="65" width="3" height="11" fill="#008080"/><rect x="715" y="65" width="1" height="11" fill="#ff0000"/><rect x="714" y="65" width="3" height="10" fill="#ff0000"/><rect x="719" y="70" width="1" height="9" fill="#ff0000"/><rect x="718" y="72" width="3" height="3" fill="#ff0000"/><rect x="723" y="71" width="1" height="15" fill="#ff0000"/><rect x="722" y="75" width="3" height="2" fill="#ff0000"/><rect x="727" y="75" width="1" height="21" fill="#ff0000"/><rect x="726" y="76" width="3" height="17" fill="#ff0000"/><rect x="731" y="92" width="1" height="15" fill="#ff0000"/><rect x="730" y="93" width="3" height="7" fill="#ff0000"/><rect x="735" y="88" width="1" height="15" fill="#008080"/><rect x="734" y="89" width="3" height="11" fill="#008080"/><rect x="739" y="87" width="1" height="16" fill="#ff0000"/><rect x="738" y="93" width="3" height="4" fill="#ff0000"/><rect x="743" y="94" width="1" height="15" fill="#ff0000"/><rect x="742" y="95" width="3" height="13" fill="#ff0000"/><rect x="747" y="105" width="1" height="23" fill="#ff0000"/><rect x="746" y="106" width="3" height="8" fill="#ff0000"/><rect x="751" y="115" width="1" height="13" fill="#ff0000"/><rect x="750" y="117" width="3" height="6" fill="#ff0000"/><rect x="755" y="118" width="1" height="9" fill="#ff0000"/><rect x="754" y="119" width="3" height="7" fill="#ff0000"/><rect x="759" y="122" width="1" height="23" fill="#008080"/><rect x="758" y="124" width="3" height="2" fill="#008080"/><rect x="763" y="119" width="1" height="12" fill="#ff0000"/><rect x="762" y="124" width="3" height="5" fill="#ff0000"/><rect x="767" y="124" width="1" height="11" fill="#008080"/><rect x="766" y="126" width="3" height="3" fill="#008080"/><rect x="771" y="123" width="1" height="9" fill="#008080"/><rect x="770" y="125" width="3" height="3" fill="#008080"/><rect x="775" y="123" width="1" height="14" fill="#ff0000"/><rect x="774" y="124" width="3" height="11" fill="#ff0000"/><rect x="779" y="132" width="1" height="6" fill="#008080"/><rect x="778" y="133" width="3" height="4" fill="#008080"/><rect x="783" y="121" width="1" height="22" fill="#008080"/><rect x="782" y="127" width="3" height="7" fill="#008080"/><rect x="787" y="90" width="1" height="36" fill="#008080"/><rect x="786" y="97" width="3" height="28" fill="#008080"/><rect x="791" y="93" width="1" height="6" fill="#008080"/><rect x="790" y="94" width="3" height="4" fill="#008080"/><rect x="795" y="72" width="1" height="24" fill="#008080"/><rect x="794" y="79" width="3" height="16" fill="#008080"/><rect x="799" y="70" width="1" height="13" fill="#008080"/><rect x="798" y="75" width="3" height="5" fill="#008080"/><rect x="803" y="73" width="1" height="20" fill="#ff0000"/><rect x="802" y="73" width="3" height="11" fill="#ff0000"/><rect x="807" y="71" width="1" height="26" fill="#ff0000"/><rect x="806" y="83" width="3" height="3" fill="#ff0000"/><rect x="811" y="72" width="1" height="17" fill="#008080"/><rect x="810" y="74" width="3" height="12" fill="#008080"/><rect x="815" y="73" width="1" height="7" fill="#ff0000"/><rect x="814" y="74" width="3" height="2" fill="#ff0000"/><rect x="819" y="74" width="1" height="11" fill="#ff0000"/><rect x="818" y="76" width="3" height="4" fill="#ff0000"/><rect x="823" y="54" width="1" height="26" fill="#008080"/><rect x="822" y="60" width="3" height="20" fill="#008080"/><rect x="827" y="44" width="1" height="17" fill="#008080"/><rect x="826" y="52" width="3" height="8" fill="#008080"/><rect x="831" y="34" width="1" height="42" fill="#ff0000"/><rect x="830" y="52" width="3" height="21" fill="#ff0000"/><rect x="835" y="67" width="1" height="25" fill="#ff0000"/><rect x="834" y="73" width="3" height="15" fill="#ff0000"/><rect x="839" y="82" width="1" height="8" fill="#ff0000"/><rect x="838" y="84" width="3" height="4" fill="#ff0000"/><rect x="843" y="89" width="1" height="9" fill="#ff0000"/><rect x="842" y="90" width="3" height="3" fill="#ff0000"/><rect x="847" y="81" width="1" height="17" fill="#008080"/><rect x="846" y="83" width="3" height="11" fill="#008080"/><rect x="851" y="75" width="1" height="12" fill="#008080"/><rect x="850" y="76" width="3" height="7" fill="#008080"/><rect x="855" y="72" width="1" height="9" fill="#ff0000"/><rect x="854" y="76" width="3" height="1" fill="#ff0000"/><rect x="859" y="57" width="1" height="23" fill="#008080"/><rect x="858" y="71" width="3" height="7" fill="#008080"/><rect x="863" y="59" width="1" height="16" fill="#008080"/><rect x="862" y="64" width="3" height="4" fill="#008080"/><rect x="867" y="62" width="1" height="7" fill="#ff0000"/><rect x="866" y="64" width="3" height="1" fill="#ff0000"/></g>
<polyline points="3.0,246.0 15.0,246.0 19.0,248.5 31.0,248.5 35.0,259.0 52.0,259.0 60.0,263.0 69.0,267.0 79.0,268.0 84.0,275.0 88.0,295.0 94.0,306.0 104.0,307.0 108.0,311.0 147.0,311.4 188.0,311.8 191.0,316.5 208.0,316.5 212.0,303.0 217.0,300.0 232.0,300.0 236.0,294.6 240.0,294.6 243.7,286.0 247.6,284.5 252.0,281.4 259.0,281.4 263.0,274.5 268.5,270.3 299.4,270.3 307.0,263.8 310.0,254.5 315.5,243.0 322.5,243.0 331.8,237.5 336.4,232.0 339.5,221.3 349.6,220.5 358.0,213.5 364.3,211.2 390.0,211.5 409.0,212.0 411.6,208.0 413.9,196.4 416.2,191.0 421.6,190.2 425.5,188.0 431.7,187.0 445.0,186.8 456.7,183.9 460.5,177.7 504.7,177.7 509.3,172.3 514.0,166.0 519.4,155.2 535.0,155.0 540.5,155.0 545.0,151.8 579.0,151.8 580.0,151.6 583.0,154.7 615.7,154.7 618.0,156.2 635.0,156.2 639.7,162.4 644.3,164.8 655.0,164.8 659.0,157.0 664.4,151.6 670.0,151.0 674.4,148.0 678.3,145.8 683.7,137.3 693.0,136.5 696.9,134.5 703.8,134.5 707.7,129.8 736.3,129.8 740.0,126.0 747.7,112.0 752.4,107.4 757.8,104.3 811.2,103.9 818.2,106.7 822.0,100.0 831.4,88.8 867.8,88.8" fill="none" stroke="#dc143c" stroke-width="2" stroke-linejoin="round" shape-rendering="crispEdges"/>
<polyline points="3.0,266.0 8.0,267.0 15.0,272.0 22.0,279.0 26.0,288.0 28.0,289.0 35.0,289.0 48.0,291.0 72.0,290.0 77.0,288.0 82.0,289.0 86.0,297.0 88.0,307.0 100.0,308.0 110.0,312.0 119.0,312.0 122.0,333.0 138.0,333.0 144.0,327.6 152.0,320.0 160.0,320.0 162.0,314.5 164.5,310.0 171.5,310.0 175.0,303.0 195.5,302.0 207.0,303.0 211.0,289.0 232.0,289.0 235.0,284.5 242.0,278.0 245.0,271.0 247.0,263.0 251.0,260.0 258.0,257.5 261.5,252.0 265.0,247.0 268.5,245.0 271.5,240.4 284.0,240.4 287.0,235.0 300.0,233.5 304.5,235.8 308.0,235.8 311.5,230.0 326.4,229.8 331.8,227.4 336.4,222.0 341.0,216.6 344.2,213.5 345.0,208.8 347.3,203.4 352.0,201.9 356.6,201.0 361.3,197.2 366.7,191.8 370.5,186.4 372.9,183.7 379.0,183.7 383.0,188.4 390.0,188.7 393.0,190.2 398.4,195.7 403.0,198.8 410.0,198.8 413.0,195.7 415.4,191.0 420.9,189.5 425.5,188.0 431.7,187.0 437.9,185.3 443.5,185.0 446.6,178.5 452.0,169.0 456.7,167.6 460.5,161.4 470.6,160.0 476.8,156.0 481.4,155.0 488.4,153.0 492.3,148.3 495.4,142.0 510.9,142.0 514.0,141.0 535.0,141.0 539.0,140.5 543.6,150.6 547.4,153.0 570.0,153.0 575.4,156.7 578.5,154.7 583.0,159.3 594.8,159.3 607.0,161.0 615.0,163.0 617.2,169.4 618.8,176.4 623.4,175.6 628.8,171.7 632.0,167.0 635.0,173.3 643.5,173.3 649.0,170.2 654.4,167.0 659.0,160.0 670.5,150.0 674.4,137.3 679.0,129.5 682.0,120.2 683.7,116.4 689.3,110.0 699.3,98.0 703.2,97.3 707.9,89.2 717.2,82.6 721.8,81.0 726.4,81.0 730.3,84.0 735.0,84.9 741.5,86.5 745.4,96.6 750.0,99.0 754.7,99.0 758.6,108.2 763.2,113.6 771.7,113.6 777.2,121.4 783.3,129.9 787.2,118.3 791.0,116.7 795.7,106.7 800.4,105.9 815.9,105.1 819.8,100.0 822.2,83.4 823.7,75.7 828.3,69.5 832.2,65.3 838.4,64.8 842.3,67.5 862.4,67.5 864.7,71.0 867.4,79.2" fill="none" stroke="#4b0082" stroke-width="2" stroke-linejoin="round" shape-rendering="crispEdges"/>
<polyline points="2.6,422.2 17.1,403.4 23.9,399.0 34.2,401.6 42.7,401.6 56.4,397.4 71.8,408.5 80.3,411.9 88.9,410.2 97.4,414.5 107.7,414.5 119.7,399.9 129.0,394.0 140.2,405.9 148.7,404.2 157.3,388.8 164.1,390.5 172.6,398.2 185.3,401.6 200.6,413.6 217.7,394.8 226.3,391.7 240.0,392.2 253.6,397.4 260.5,397.4 270.7,389.7 286.1,399.0 298.1,404.2 308.3,410.2 318.6,404.2 328.8,392.2 344.2,384.2 351.7,386.3 365.4,398.2 379.0,408.5 391.0,417.0 401.3,421.3 411.5,413.6 421.8,396.5 430.3,388.8 437.2,394.8 445.7,406.8 452.6,407.6 461.1,399.9 473.1,388.3 486.8,403.4 495.3,407.6 503.8,400.8 517.5,400.8 531.8,408.5 542.1,404.2 552.4,403.4 564.3,396.5 572.9,393.1 579.7,399.9 593.4,417.0 603.6,413.6 615.6,404.2 631.0,398.2 641.2,399.0 651.5,397.4 661.8,388.0 668.6,388.0 678.8,392.2 689.1,391.4 700.0,393.1 713.7,394.0 722.2,394.8 737.6,409.3 747.9,412.8 759.8,415.3 768.4,409.3 775.2,402.5 782.0,402.5 790.6,396.5 802.6,386.3 812.8,393.1 823.1,394.0 833.3,395.7 847.0,415.3 853.8,411.0 864.1,396.2 867.5,393.0" fill="none" stroke="#ff0000" stroke-width="1" stroke-dasharray="3,3" shape-rendering="crispEdges"/>
<polyline points="2.6,415.3 11.1,391.0 18.8,403.7 23.0,403.7 27.4,393.6 38.5,410.2 49.6,389.7 52.1,388.8 63.2,417.9 71.8,409.3 78.6,409.8 82.9,406.4 87.2,416.2 94.9,421.3 100.9,415.0 103.4,415.0 107.7,406.8 111.1,406.8 119.7,389.7 124.8,389.7 135.0,421.8 147.0,386.3 151.3,380.3 155.6,383.7 163.2,401.6 172.6,401.6 182.7,396.9 187.0,409.3 195.5,421.3 203.2,407.6 207.5,391.4 210.0,390.0 215.2,390.0 219.4,392.8 226.3,392.8 231.4,392.2 243.4,392.8 247.6,403.4 251.9,400.8 256.2,399.9 259.6,389.7 264.7,387.1 269.9,388.3 279.3,407.6 291.2,394.8 298.1,405.9 303.2,421.3 307.5,421.3 310.9,400.8 319.4,392.2 323.7,395.7 327.1,394.5 334.8,383.2 339.1,383.2 342.5,384.5 347.6,384.9 350.0,388.8 356.8,402.5 359.4,404.2 363.7,401.6 367.1,401.6 371.4,413.6 375.6,415.0 383.3,415.0 387.6,418.7 391.0,419.6 396.2,423.0 403.0,424.2 406.4,416.2 411.5,401.6 415.8,388.0 419.2,387.1 423.5,384.5 427.8,387.1 432.0,391.4 435.5,415.3 438.0,415.0 443.2,411.9 447.4,405.4 455.1,401.6 459.4,386.3 466.2,384.9 471.4,387.1 475.6,397.4 479.0,417.0 483.3,417.0 487.6,405.1 491.0,394.5 495.3,399.9 499.6,398.6 507.3,405.1 511.5,399.9 519.2,399.9 522.6,411.0 527.8,415.0 531.5,415.0 534.4,394.8 537.8,395.7 542.1,401.6 547.2,411.0 551.5,411.0 558.3,392.2 563.5,385.9 567.7,389.7 571.2,396.5 575.4,401.6 584.0,418.7 591.7,418.7 598.5,412.8 602.8,405.1 607.9,405.1 611.3,402.8 615.6,403.9 623.3,402.8 631.0,388.3 634.4,405.1 638.7,405.1 643.0,402.5 647.2,388.8 652.4,384.5 656.6,384.9 661.8,388.0 666.9,391.4 671.2,392.2 675.4,394.0 679.7,391.4 689.1,389.7 694.2,392.2 699.4,397.4 700.0,396.9 706.8,397.9 711.1,391.0 714.5,391.7 718.8,391.7 723.1,399.9 727.4,414.5 731.6,417.0 741.0,407.6 742.7,407.6 747.9,417.9 751.3,420.8 754.7,421.3 766.7,395.7 769.2,396.2 778.6,411.0 788.0,388.8 793.2,382.8 799.1,383.7 806.8,400.8 811.1,400.8 818.0,389.7 826.5,391.0 835.0,409.3 839.3,423.9 843.6,423.9 851.3,397.4 855.6,384.5 859.8,390.5 867.5,396.9" fill="none" stroke="#302c84" stroke-width="2" stroke-linejoin="round" shape-rendering="crispEdges"/>
<g shape-rendering="crispEdges" stroke="#000080" stroke-width="2"><line x1="99" y1="242" x2="840" y2="17"/><line x1="99" y1="353" x2="892" y2="106"/></g>
<g fill="none" stroke="#000" stroke-width="1" shape-rendering="crispEdges">
<rect x="2.5" y="2.5" width="1008" height="372"/>
<rect x="2.5" y="376.5" width="1008" height="55"/>
</g>
<g fill="#000" shape-rendering="crispEdges"><rect x="1011" y="8" width="3" height="1"/><rect x="1011" y="41" width="3" height="1"/><rect x="1011" y="74" width="3" height="1"/><rect x="1011" y="107" width="3" height="1"/><rect x="1011" y="140" width="3" height="1"/><rect x="1011" y="174" width="3" height="1"/><rect x="1011" y="206" width="3" height="1"/><rect x="1011" y="239" width="3" height="1"/><rect x="1011" y="272" width="3" height="1"/><rect x="1011" y="306" width="3" height="1"/><rect x="1011" y="338" width="3" height="1"/><rect x="1011" y="371" width="3" height="1"/><rect x="3" y="432" width="1" height="3"/><rect x="67" y="432" width="1" height="3"/><rect x="131" y="432" width="1" height="3"/><rect x="195" y="432" width="1" height="3"/><rect x="259" y="432" width="1" height="3"/><rect x="323" y="432" width="1" height="3"/><rect x="387" y="432" width="1" height="3"/><rect x="451" y="432" width="1" height="3"/><rect x="515" y="432" width="1" height="3"/><rect x="579" y="432" width="1" height="3"/><rect x="643" y="432" width="1" height="3"/><rect x="707" y="432" width="1" height="3"/><rect x="771" y="432" width="1" height="3"/><rect x="835" y="432" width="1" height="3"/></g>
<rect x="647" y="207" width="199" height="63" fill="#021228"/>
<text x="653" y="250" font-family="Liberation Sans" font-weight="bold" font-style="italic" font-size="33.6" fill="#d6d8da" textLength="66" lengthAdjust="spacingAndGlyphs">Baya</text>
<text x="739" y="250" font-family="Liberation Sans" font-weight="bold" font-style="italic" font-size="33.6" fill="#d6d8da" textLength="33" lengthAdjust="spacingAndGlyphs">aa</text>
<text x="781" y="250" font-family="Liberation Sans" font-weight="bold" font-style="italic" font-size="33.6" fill="#d6d8da" textLength="40" lengthAdjust="spacingAndGlyphs">.ne</text>
<path d="M719.5 258 L726 226.5 M735 250 L740.5 215" fill="none" stroke="#d6d8da" stroke-width="2.6"/>
<path d="M724 226 L729.5 226 L737 250.5 L731.5 250.5 Z" fill="#d6d8da"/>
<path d="M741 208 L737.8 220 L742.8 220.5 Z" fill="#d6d8da"/>
<path d="M719.5 266 L717 254 L722.5 254.5 Z" fill="#d6d8da"/>
<rect x="777" y="217" width="2" height="34" fill="#d6d8da"/>
<rect x="771.5" y="221.5" width="12.5" height="8.5" fill="#0a1a6e" stroke="#8890a0" stroke-width="1"/>
<rect x="830" y="218" width="2" height="33" fill="#d6d8da"/>
<rect x="824.5" y="238.5" width="12" height="6.5" fill="#333" stroke="#c0c0c0" stroke-width="1"/>
</svg>
<div class="tri"></div>
<div class="title">GOLD,H4&nbsp; 1291.50 1291.81 1290.36 1291.15</div>
<div class="pl" style="top:3px">1308.50</div><div class="pl" style="top:36px">1298.60</div><div class="pl" style="top:69px">1288.40</div><div class="pl" style="top:102px">1278.50</div><div class="pl" style="top:135px">1268.60</div><div class="pl" style="top:169px">1258.40</div><div class="pl" style="top:201px">1248.50</div><div class="pl" style="top:234px">1238.60</div><div class="pl" style="top:267px">1228.70</div><div class="pl" style="top:301px">1218.50</div><div class="pl" style="top:333px">1208.60</div><div class="pl" style="top:366px">1198.70</div>
<div class="cur">1291.15</div>
<div class="st">Stoch(3,5,3) 62.4290 72.0399</div>
<div class="sl" style="left:1014px;top:378px">100</div>
<div class="sl" style="left:1013px;top:383px">80</div>
<div class="sl" style="left:1013px;top:415px">20</div>
<div class="sl" style="left:1013px;top:418px">0</div>
<div class="tl" style="left:2px">4 Jul 2017</div><div class="tl" style="left:66px">6 Jul 16:00</div><div class="tl" style="left:130px">11 Jul 04:00</div><div class="tl" style="left:194px">13 Jul 20:00</div><div class="tl" style="left:258px">18 Jul 08:00</div><div class="tl" style="left:322px">21 Jul 00:00</div><div class="tl" style="left:386px">25 Jul 12:00</div><div class="tl" style="left:450px">28 Jul 04:00</div><div class="tl" style="left:514px">1 Aug 16:00</div><div class="tl" style="left:578px">4 Aug 08:00</div><div class="tl" style="left:642px">8 Aug 20:00</div><div class="tl" style="left:706px">11 Aug 12:00</div><div class="tl" style="left:770px">16 Aug 00:00</div><div class="tl" style="left:834px">18 Aug 16:00</div>
</body></html>
